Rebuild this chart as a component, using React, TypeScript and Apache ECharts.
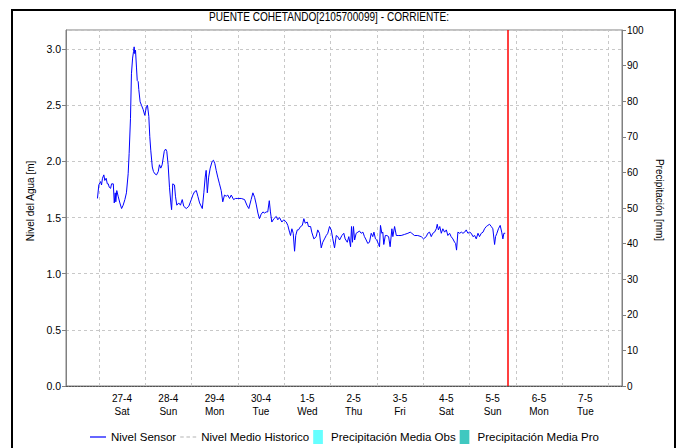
import React, { useEffect, useRef } from "react";
import * as echarts from "echarts";

const titleText = "PUENTE COHETANDO[2105700099] - CORRIENTE:";

// [hours since 27-4 00:00, level in m]
const sensorReadings: [number, number][] = [
  [-0.7, 1.67], [0, 1.79], [0.9, 1.82], [1.4, 1.79], [1.9, 1.85], [2.6, 1.88], [3.1, 1.83], [3.8, 1.85], [4.4, 1.8], [4.9, 1.8],
  [5.4, 1.77], [6.1, 1.76], [6.6, 1.8], [7.5, 1.8], [8.0, 1.63], [8.5, 1.72], [8.8, 1.64], [9.3, 1.74], [10.0, 1.69], [10.9, 1.63],
  [11.8, 1.58], [12.6, 1.61], [13.5, 1.66], [14.3, 1.72], [15.2, 1.89], [15.7, 2.07], [16.4, 2.38], [16.9, 2.78], [17.5, 2.92], [18.0, 2.98],
  [18.3, 3.02], [18.6, 2.96], [19.0, 2.99], [19.5, 2.84], [19.9, 2.72], [20.4, 2.71], [20.7, 2.64], [21.4, 2.53], [22.1, 2.5], [23.0, 2.46],
  [23.8, 2.41], [24.7, 2.49], [25.2, 2.5], [25.9, 2.4], [26.4, 2.22], [26.9, 2.1], [27.7, 1.95], [28.3, 1.91], [29.0, 1.89], [29.9, 1.88],
  [30.8, 1.91], [31.4, 1.97], [32.1, 1.94], [32.8, 1.97], [33.9, 2.09], [34.6, 2.11], [35.2, 2.09], [35.9, 1.97], [36.6, 1.77], [37.3, 1.63],
  [37.7, 1.57], [38.3, 1.8], [39.2, 1.79], [39.7, 1.69], [40.4, 1.61], [41.4, 1.63], [42.3, 1.61], [43.2, 1.66], [44.0, 1.6], [45.3, 1.58],
  [46.6, 1.6], [47.9, 1.66], [48.7, 1.7], [49.6, 1.73], [50.5, 1.74], [51.3, 1.69], [52.2, 1.63], [53.6, 1.58], [54.4, 1.72], [55.1, 1.86],
  [55.6, 1.92], [56.2, 1.72], [56.9, 1.86], [57.7, 1.94], [58.7, 2.0], [59.4, 2.01], [60.1, 1.98], [60.8, 1.92], [61.6, 1.86], [62.5, 1.8],
  [63.4, 1.74], [64.2, 1.64], [65.1, 1.7], [66.0, 1.69], [66.8, 1.7], [67.7, 1.67], [68.6, 1.7], [69.8, 1.66], [70.8, 1.67], [72.0, 1.67],
  [73.8, 1.67], [75.5, 1.66], [76.7, 1.61], [77.7, 1.58], [78.9, 1.66], [79.8, 1.72], [80.7, 1.68], [81.5, 1.62], [82.4, 1.54], [83.2, 1.49],
  [84.1, 1.53], [85.0, 1.55], [85.8, 1.54], [86.7, 1.55], [87.5, 1.55], [88.3, 1.65], [88.9, 1.55], [89.6, 1.46], [90.7, 1.49], [91.9, 1.51],
  [92.7, 1.48], [93.6, 1.5], [94.8, 1.46], [95.8, 1.48], [97.1, 1.46], [97.9, 1.43], [98.8, 1.37], [99.3, 1.34], [100.0, 1.4], [100.7, 1.36],
  [101.4, 1.2], [102.0, 1.34], [102.8, 1.39], [103.4, 1.39], [104.5, 1.42], [105.4, 1.43], [106.2, 1.49], [106.9, 1.45], [108.0, 1.46], [108.6, 1.42],
  [109.7, 1.42], [110.3, 1.37], [111.4, 1.31], [112.6, 1.33], [113.4, 1.39], [114.3, 1.36], [115.2, 1.23], [116.0, 1.28], [116.9, 1.31], [117.8, 1.34],
  [118.6, 1.36], [119.5, 1.42], [120.4, 1.39], [121.2, 1.31], [122.1, 1.23], [123.0, 1.34], [123.8, 1.33], [124.7, 1.3], [125.9, 1.34], [126.9, 1.36],
  [127.6, 1.31], [128.7, 1.28], [129.5, 1.33], [130.4, 1.24], [130.9, 1.42], [131.4, 1.28], [131.9, 1.42], [132.5, 1.3], [133.3, 1.36], [134.2, 1.37],
  [135.0, 1.38], [135.9, 1.36], [136.8, 1.37], [137.6, 1.33], [138.5, 1.3], [139.3, 1.27], [140.2, 1.28], [141.1, 1.36], [141.9, 1.33], [142.5, 1.37],
  [143.3, 1.31], [144.0, 1.3], [144.9, 1.26], [145.4, 1.24], [145.9, 1.43], [146.6, 1.36], [147.1, 1.37], [147.6, 1.26], [148.4, 1.34], [149.2, 1.34],
  [150.1, 1.33], [150.9, 1.24], [151.8, 1.4], [152.3, 1.33], [153.2, 1.42], [154.1, 1.34], [155.4, 1.34], [156.6, 1.34], [158.4, 1.35], [160.1, 1.36],
  [161.3, 1.37], [162.1, 1.36], [163.5, 1.34], [165.2, 1.34], [167.0, 1.33], [168.2, 1.31], [169.6, 1.33], [170.4, 1.36], [171.3, 1.37], [172.2, 1.33],
  [173.0, 1.36], [173.9, 1.37], [174.8, 1.4], [175.3, 1.44], [175.9, 1.39], [176.6, 1.42], [177.4, 1.36], [178.2, 1.4], [179.1, 1.37], [180.0, 1.39],
  [180.8, 1.34], [181.7, 1.36], [182.5, 1.33], [183.4, 1.31], [184.3, 1.28], [184.8, 1.27], [185.3, 1.21], [186.0, 1.37], [186.9, 1.36], [187.8, 1.37],
  [188.6, 1.36], [189.5, 1.37], [190.3, 1.39], [191.2, 1.36], [192.1, 1.37], [192.9, 1.36], [193.8, 1.33], [194.7, 1.34], [195.5, 1.31], [196.4, 1.36],
  [197.2, 1.33], [198.1, 1.36], [199.0, 1.37], [199.8, 1.4], [200.7, 1.42], [201.5, 1.43], [202.4, 1.44], [203.3, 1.42], [204.1, 1.4], [205.0, 1.26],
  [205.5, 1.33], [206.2, 1.36], [207.0, 1.4], [207.9, 1.43], [208.7, 1.37], [209.3, 1.31], [209.8, 1.36], [210.5, 1.36],
];

const historicLevel: [number, number][] = [];
const precipObs: [number, number][] = [];
const precipPro: [number, number][] = [];

const dayLabels = ["27-4", "28-4", "29-4", "30-4", "1-5", "2-5", "3-5", "4-5", "5-5", "6-5", "7-5"];
const weekDays = ["Sat", "Sun", "Mon", "Tue", "Wed", "Thu", "Fri", "Sat", "Sun", "Mon", "Tue"];
const dayCenters = [12, 36, 60, 84, 108, 132, 156, 180, 204, 228, 252];
const midnights = [0.01, 24, 48, 72, 96, 120, 144, 168, 192, 216, 240, 264];
const nowHour = 212;
const xMin = -17;
const xMax = 271;

const FONT = "'Liberation Sans', Arial, sans-serif";

export default function App() {
  const ref = useRef<HTMLDivElement>(null);
  useEffect(() => {
    document.body.style.margin = "0";
    const chart = echarts.init(ref.current!, null, { renderer: "svg" });
    const gridLine = { color: "#c8c8c8", type: [3, 3] as number[], width: 1 };
    chart.setOption({
      animation: false,
      backgroundColor: "#ffffff",
      textStyle: { fontFamily: FONT },
      graphic: [
        {
          type: "rect",
          silent: true,
          z: 100,
          shape: { x: 12, y: 10, width: 663, height: 460 },
          style: { fill: "none", stroke: "#000", lineWidth: 2 },
        },
        {
          type: "text",
          x: 329,
          y: 17,
          scaleX: 0.84,
          style: {
            text: titleText,
            fill: "#000",
            font: `12px ${FONT}`,
            textAlign: "center",
            textVerticalAlign: "middle",
          },
        },
      ],
      grid: {
        left: 66,
        right: 59,
        top: 30,
        bottom: 62,
        show: true,
        borderColor: "#808080",
        borderWidth: 1,
        backgroundColor: "transparent",
      },
      legend: {
        left: 90,
        top: 430,
        padding: 0,
        itemWidth: 16,
        itemHeight: 14,
        itemGap: 4,
        textStyle: { fontSize: 11.5, color: "#000", fontFamily: FONT },
        data: [
          { name: "Nivel Sensor", icon: "path://M0,0h16v1.2h-16z" },
          { name: "Nivel Medio Historico", icon: "path://M0,0h4v1.2h-4zM7,0h4v1.2h-4zM14,0h4v1.2h-4z" },
          { name: "Precipitación Media Obs", icon: "path://M0,0h9v13h-9z" },
          { name: "Precipitación Media Pro", icon: "path://M0,0h9v13h-9z" },
        ],
      },
      xAxis: {
        type: "value",
        min: xMin,
        max: xMax,
        axisLine: { show: true, onZero: false, lineStyle: { color: "#555", type: [2, 1] } },
        axisTick: { show: false },
        splitLine: { show: false },
        axisLabel: {
          customValues: dayCenters,
          formatter: (v: number) => {
            const i = dayCenters.indexOf(Math.round(v));
            return i >= 0 ? `${dayLabels[i]}\n${weekDays[i]}` : "";
          },
          fontSize: 10,
          color: "#000",
          lineHeight: 13,
          margin: 6,
          hideOverlap: false,
        },
      },
      yAxis: [
        {
          type: "value",
          min: 0,
          max: 3.17,
          interval: 0.5,
          name: "Nivel del Agua [m]",
          nameLocation: "middle",
          nameRotate: 90,
          nameGap: 26,
          nameTextStyle: { fontSize: 10, color: "#000", fontFamily: FONT, padding: [0, 0, 0, 14] },
          axisLine: { show: true, onZero: false, lineStyle: { color: "#808080" } },
          axisTick: { show: true, length: 4, lineStyle: { color: "#808080" } },
          axisLabel: {
            formatter: (v: number) => v.toFixed(1),
            fontSize: 10.5,
            color: "#000",
            showMaxLabel: false,
            margin: 5,
          },
          splitLine: { show: true, lineStyle: gridLine },
        },
        {
          type: "value",
          min: 0,
          max: 100,
          interval: 10,
          position: "right",
          name: "Precipitación [mm]",
          nameLocation: "middle",
          nameRotate: -90,
          nameGap: 14,
          nameTextStyle: { fontSize: 10, color: "#000", fontFamily: FONT, padding: [8, 16, 0, 0] },
          axisLine: { show: true, onZero: false, lineStyle: { color: "#808080" } },
          axisTick: { show: true, length: 4, lineStyle: { color: "#808080" } },
          axisLabel: { fontSize: 10, color: "#000", margin: 5 },
          splitLine: { show: false },
        },
      ],
      series: [
        {
          name: "Nivel Sensor",
          type: "line",
          data: sensorReadings,
          showSymbol: false,
          symbol: "none",
          lineStyle: { color: "#0000ff", width: 1 },
          itemStyle: { color: "#0000ff" },
          z: 5,
          markLine: {
            silent: true,
            symbol: ["none", "none"],
            label: { show: false },
            data: [
              ...midnights.map((m) => ({ xAxis: m, lineStyle: { ...gridLine } })),
              { xAxis: nowHour, lineStyle: { color: "#ff0000", width: 1.5, type: "solid" } },
            ],
          },
        },
        {
          name: "Nivel Medio Historico",
          type: "line",
          data: historicLevel,
          showSymbol: false,
          symbol: "none",
          lineStyle: { color: "#b4b4b4", width: 1, type: [3, 3] },
          itemStyle: { color: "#b4b4b4" },
        },
        {
          name: "Precipitación Media Obs",
          type: "bar",
          yAxisIndex: 1,
          data: precipObs,
          itemStyle: { color: "#66ffff" },
        },
        {
          name: "Precipitación Media Pro",
          type: "bar",
          yAxisIndex: 1,
          data: precipPro,
          itemStyle: { color: "#40c8c0" },
        },
      ],
    });
    return () => chart.dispose();
  }, []);
  return <div ref={ref} style={{ width: 681, height: 448 }} />;
}
